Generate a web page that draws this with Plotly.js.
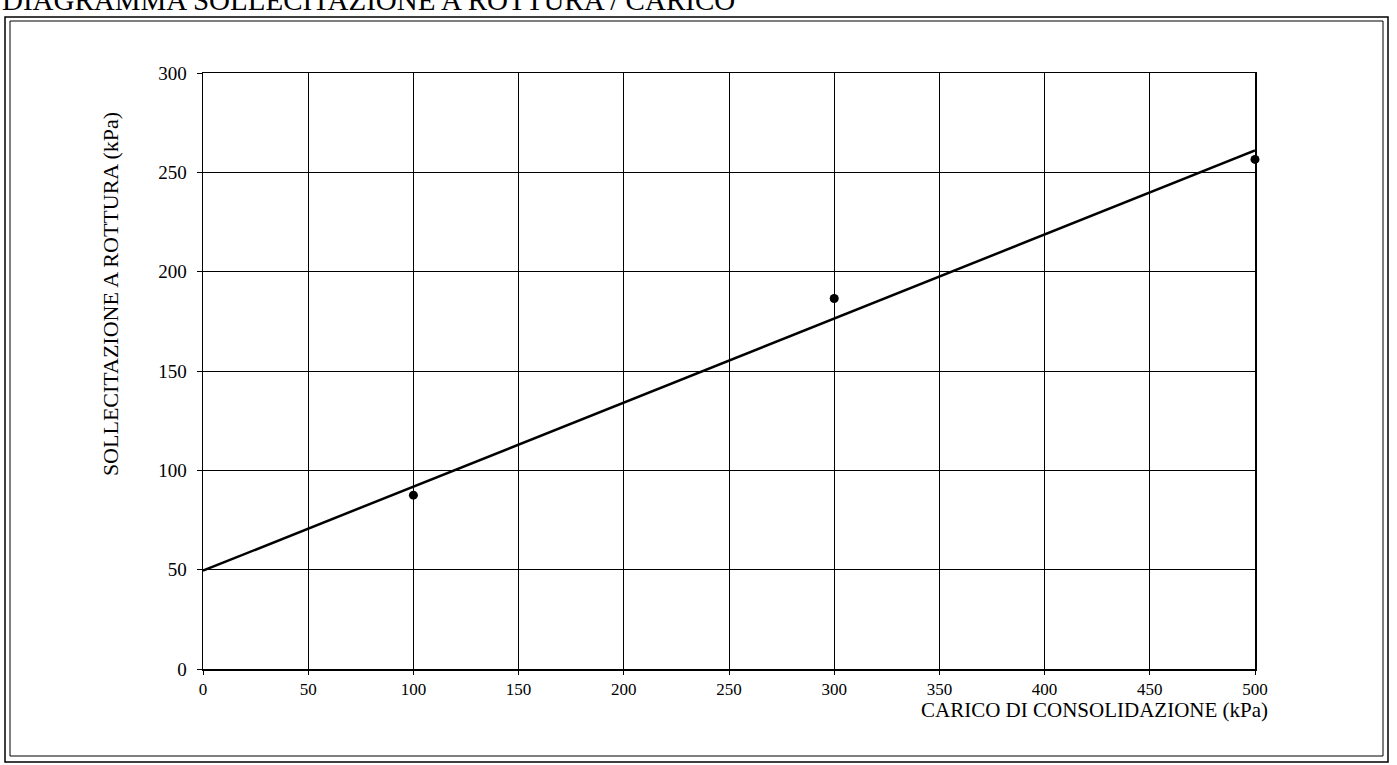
<!DOCTYPE html>
<html><head><meta charset="utf-8">
<script src="https://cdn.plot.ly/plotly-3.0.1.min.js"></script>
<style>html,body{margin:0;padding:0;background:#fff}#chart{width:1397px;height:765px}</style>
</head><body><div id="chart"></div>
<script>
// Data
const caricoPoints = [100, 300, 500];
const sollecitazionePoints = [87.5, 186.5, 256.5];
const fitX = [0, 500];
const fitY = [49.5, 261];
const xTicks = [0, 50, 100, 150, 200, 250, 300, 350, 400, 450, 500];
const yTicks = [0, 50, 100, 150, 200, 250, 300];

const FONT = 'Liberation Serif, Times New Roman, serif';

const traces = [
  {x: fitX, y: fitY, mode: 'lines', line: {color: '#000', width: 2.5}, hoverinfo: 'skip', showlegend: false},
  {x: caricoPoints, y: sollecitazionePoints, mode: 'markers', marker: {color: '#000', size: 9}, cliponaxis: false, showlegend: false}
];

const layout = {
  width: 1397, height: 765,
  margin: {l: 203, r: 142, t: 73, b: 96},
  paper_bgcolor: '#fff', plot_bgcolor: '#fff',
  font: {family: FONT, color: '#000', size: 18},
  xaxis: {range: [0, 500], tickvals: xTicks, ticktext: xTicks.map(String), showgrid: true, gridcolor: '#000', gridwidth: 1,
    showline: true, linecolor: '#000', linewidth: 1.5, mirror: true, ticks: 'outside', ticklen: 4, tickcolor: '#000',
    zeroline: false, tickfont: {family: FONT, size: 17}, ticklabelstandoff: 0},
  yaxis: {range: [0, 300], tickvals: yTicks, ticktext: yTicks.map(String), showgrid: true, gridcolor: '#000', gridwidth: 1,
    showline: true, linecolor: '#000', linewidth: 1.5, mirror: true, ticks: 'outside', ticklen: 5, tickcolor: '#000',
    zeroline: false, tickfont: {family: FONT, size: 19}, ticklabelstandoff: 6},
  annotations: [
    {text: 'DIAGRAMMA SOLLECITAZIONE A ROTTURA / CARICO', xref: 'paper', yref: 'paper', x: -0.193, y: 1.092,
      xanchor: 'left', yanchor: 'bottom', showarrow: false, font: {family: FONT, size: 29, color: '#000'}},
    {text: 'SOLLECITAZIONE A ROTTURA (kPa)', xref: 'paper', yref: 'paper', x: (110-203)/1052, y: 0.629, textangle: -90,
      xanchor: 'center', yanchor: 'middle', showarrow: false, font: {family: FONT, size: 22, color: '#000'}},
    {text: 'CARICO DI CONSOLIDAZIONE (kPa)', xref: 'paper', yref: 'paper', x: (1270-203)/1052, y: (669-710)/596,
      xanchor: 'right', yanchor: 'middle', showarrow: false, font: {family: FONT, size: 21, color: '#000'}}
  ],
  shapes: [
    {type: 'rect', xref: 'paper', yref: 'paper', x0: (5-203)/1052, x1: (1388-203)/1052, y0: (669-762)/596, y1: (669-17)/596,
      line: {color: '#000', width: 1.5}},
    {type: 'rect', xref: 'paper', yref: 'paper', x0: (10-203)/1052, x1: (1383-203)/1052, y0: (669-756)/596, y1: (669-21)/596,
      line: {color: '#000', width: 1}}
  ]
};

Plotly.newPlot('chart', traces, layout, {displayModeBar: false, staticPlot: true});
</script></body></html>
